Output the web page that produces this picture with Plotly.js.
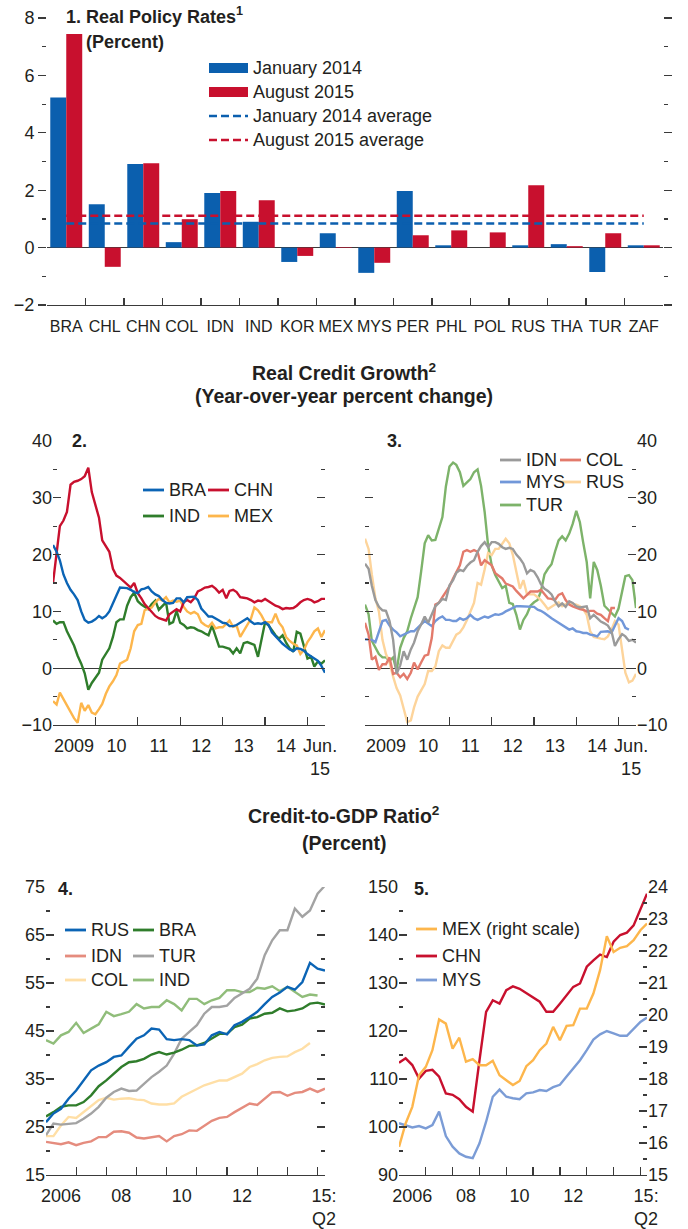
<!DOCTYPE html>
<html><head><meta charset="utf-8">
<script src="https://cdn.plot.ly/plotly-3.0.1.min.js"></script>
<style>html,body{margin:0;padding:0;background:#fff}#chart{width:688px;height:1229px}</style>
</head><body><div id="chart"></div>
<script>
// ---------- Panel 1: Real policy rates ----------
const countries = ['BRA','CHL','CHN','COL','IDN','IND','KOR','MEX','MYS','PER','PHL','POL','RUS','THA','TUR','ZAF'];
const rateJan2014 = [5.23,1.51,2.91,0.19,1.9,0.9,-0.5,0.5,-0.88,1.97,0.08,0,0.08,0.12,-0.85,0.08];
const rateAug2015 = [7.44,-0.67,2.94,0.99,1.97,1.65,-0.29,0.02,-0.53,0.43,0.6,0.53,2.17,0.05,0.5,0.08];
const avgJan2014 = [0.84,0.84];
const avgAug2015 = [1.11,1.11];

// ---------- Panel 2 & 3: Real credit growth, monthly Jan 2009 - Jun 2015 ----------
const bra2 = [21.7,20.5,19,16.5,15,13.8,13,12,10,8.5, 8,8.2,8.6,9.2,8.8,9.2,10,11.3,12.8,14.2, 14.2,14.1,13.8,13.4,13.2,13.9,14,14.3,13.5,13, 12.7,12,11.5,11.4,11.5,12.3,12.3,11.6,12.5,12.6, 12.6,12,10.5,9.8,9.1,9.1,8.8,8.4,8,7.9, 7.4,7.4,7.6,8,8.4,8.8,8.2,7.8,7.9,7.8, 8.1,7.6,6.3,5.6,5,4.3,3.8,3.3,3,3.5, 3.4,3.1,2.5,2,1.7,1.3,0.4,-0.8];
const chn2 = [15,20,25,26,27.5,32.3,32.8,33,33.3,33.8, 35.3,31,28.8,26.5,22.5,21.5,20.5,17.5,16.3,15.9, 15.3,14.8,14.2,15,13.2,12.3,11.3,10.6,10,9.2, 8.8,8.6,8.4,9.5,10,10.4,10,11.6,12,11.6, 12.3,13.5,13.8,14.2,14.3,14.5,14,13.3,13.8,12.3, 13.6,13.8,13.4,12.5,12.4,12.3,12,11.6,11.9,11.8, 12.2,11.8,11.3,11,10.8,10.4,10.6,10.5,10.6,11, 11.6,12,12.2,12,11.6,11.8,12.2,12.2];
const ind2 = [8.4,7.8,8.1,8.1,6.5,5.2,4,2.2,0.8,-0.9, -3.8,-2.6,-1.8,-0.8,1.5,2.6,3.5,5.5,8.1,8.6, 8.6,11,12.5,13.3,11.8,11.2,10.8,10.4,11.3,11.9, 10.3,11,11.6,7.8,8.1,10.1,8,7.6,7,7.2, 7.1,6.7,6.5,6.1,5.8,7.5,5.5,3.8,3.8,3.6, 3.4,2.6,3.5,2.6,4.4,4.6,4.3,4.1,2,4.9, 8.1,7.5,6.7,5.8,5.2,5.8,4.5,3.5,2.9,6.4, 6.1,4,1.7,2,0.3,1.2,0.8,1.4];
const mex2 = [-5.8,-6.4,-4.3,-5.5,-6.6,-7.8,-8.8,-9.6,-6.1,-7.5, -6.5,-7.8,-8.1,-7.2,-6.3,-4.5,-3.2,-2.3,-1.2,0.8, 1.2,1.5,3.5,6.5,7.6,7.8,10.2,10.5,10.7,11.6, 12.2,11.9,12.5,11.6,11.9,11.7,11.9,10.8,10,9.6, 9.9,9.5,8.1,7.6,7.3,8,7,7.2,7.2,7.8, 8.4,7.3,7.5,5.5,6.5,7.5,8.7,10.7,10.2,9.3, 8.1,8.1,8.1,9.6,8,7.2,5.5,4.8,4.3,4, 2.5,3.2,4.6,5.5,6.5,7,5.5,6.7];

const idn3 = [18.4,17.5,14.5,12,10.8,10.2,10.1,8.3,5,-1, 0.5,3,1.5,3.3,4.5,6.5,7.7,9.1,8,9.5, 10.9,11.5,12.2,12,14.6,15.5,16.8,17.3,17.1,18, 18.6,19,20.5,21.5,22.2,21.3,22.2,22.2,21.9,21.3, 21,21.2,21,20,19.3,18.4,16.7,17.3,17,16, 14.8,14,13.6,13,11.8,10.9,11.4,10.8,11.8,11.5, 10.9,10.7,10.8,10.9,8.8,9.4,8.8,8.2,7.9,7.5, 6.5,3.9,5.1,6,5.6,4.8,5,4.5];
const col3 = [8,5.9,1.5,2,-0.3,0.7,0.7,1.9,-1,-0.8, -1.6,-1,-1.9,-0.8,1,-0.2,1,2.2,2.4,5.3, 11.2,11.5,12.5,13.5,14.4,15.8,17,18.1,20.5,20.8, 20.5,20.8,20.5,18.1,19,18.5,18.1,16.7,16.2,15.8, 14.9,14.6,14.4,13.6,12.9,12.3,12.9,13.5,13.5,13.5, 13.8,13,12.3,12.2,12,12.9,13.2,12,11.2,10.9, 10.6,10.4,10.3,10,10.1,10.1,9.6,9.4,8.8,8.3, 10.6,10.6];
const mys3 = [5.1,5.1,5,4.6,6.5,8.3,8.5,7.5,6.8,6.3, 5.6,5.9,6.2,6.5,6.5,7.2,7.7,8.3,7.8,7.4, 8.3,8.8,9.1,8.5,8.5,8.3,8.3,8.8,8.5,8.8, 9.4,8.8,8.5,8.8,9.1,8.9,9.2,9.5,9.4,9.6, 10,10.3,10.6,10.9,10.9,10.9,10.9,10.9,10.8,10.3, 10.1,9.7,9.2,8.8,8.4,8,7.5,7.1,6.8,7, 6.5,6.4,6.2,6.2,5.9,5.8,5.6,6.4,6.5,6.5, 6.2,7.4,8.8,8.3,7.1,6.8];
const rus3 = [22.8,21,16.5,12.3,10,5,2.5,1,-1.5,-3.5, -4.8,-7.2,-9.5,-9.2,-6.9,-5,-3.8,-2.8,-0.5,-0.5, 0.3,3,4,3.6,3.6,4.8,5.9,6.3,7.2,8.5, 10,11.5,15,14.7,17.4,20.3,19.9,21,21,22, 22.8,22,20,17,14,15.5,13,13,13,12.5, 12,11.2,10.4,10.8,11.2,11.6,10.9,11.3,11.5,11.4, 11.2,10.9,10.4,9.4,6.5,5.5,5.3,5.2,5.1,5.6, 6.8,8.3,7.7,3,-0.8,-2.5,-2.2,-1];
const tur3 = [11.2,9.5,4.8,3.6,2.5,1.9,1.9,1.3,1.9,-0.5, 3.6,5.3,6.5,8.8,10.5,12.5,17,22,23.4,22.5, 22.6,24.5,26.6,32,35.5,36.2,35.8,34.5,32.1,32.7, 33.3,34.5,35,32.1,27.5,21.6,18.1,16.4,15.2,14.1, 14.5,11.5,11.3,9.4,6.8,8.5,9.5,11,11.6,12, 13.5,16.5,17.5,18.3,20.5,22.5,23.2,22.5,23.7,25.4, 27.7,25.7,22.2,18.7,12.3,18.7,17.3,14.5,11,10.4, 9.8,9.1,10.5,13.5,16.2,16.4,15.5,10.6];

// ---------- Panel 4 & 5: Credit-to-GDP, quarterly 2006:Q1 - 2015:Q2 ----------
const rus4 = [26,27.8,28.8,30.9,32.6,34.7,36.8,37.8,38.5,39.6, 39.9,41.7,43.4,44.1,45.5,45.3,43.3,43.1,43.3,43.1, 42,42.2,44.1,44.8,44.3,46.2,46.9,47.9,49,50.6, 52.1,53,54.2,53.6,55.2,59.2,58,57.6];
const bra4 = [27.2,28.1,29.2,29.5,29.5,30.2,31.6,33.5,34.7,36.1, 37.5,38.5,38.7,39.2,40.1,40.6,40.1,40.5,41.1,41.9, 42,42.5,43.4,44.4,44.4,45.8,46.3,47.6,47.9,48.6, 48.8,49.7,49.1,49.3,49.7,50.7,50.9,50.5];
const idn4 = [21.9,21.7,21.4,21.8,21.2,21.7,22,22.9,22.9,24, 24.1,23.8,22.8,22.6,22.8,23.1,22,23.1,23.5,24.3, 24.2,25.3,26.3,26.9,27.1,28.1,29,29.9,29.6,30.9, 32.2,32.3,31.5,32.1,32.3,33,32.3,33];
const tur4 = [23.3,25.7,25.5,25.7,25.8,26.7,27.8,29.2,31.1,32.3, 33,32.5,32.6,34,35.4,36.5,37.8,40.3,43.4,44.8, 46.2,48.6,50,50,50.3,51.9,52.8,53.8,55.9,60.8, 63.9,66,66,70.5,68.8,70.1,73.6,75.3];
const col4 = [23.1,23.1,25.3,27.1,26.9,28.1,29.5,30.6,31.1,30.7, 30.9,31,30.7,30.6,29.9,29.7,29.7,29.9,31.3,32.1, 32.8,33.7,34.2,34.7,34.7,35.4,36.1,37.5,38.1,38.9, 39.4,39.6,39.7,40.6,41.3,42.5];
const ind4 = [43.1,42.4,44.1,44.8,46.7,44.6,45.5,46.4,49,48.1, 48.5,49,50.6,49.7,50,50,51.4,50.6,49.3,51.7, 51.7,50.6,51.4,51.9,53.5,53.5,53.1,53.1,54,53.8, 54.3,53.3,54.2,53.1,52.1,52.6,52.4];

const mex5 = [15.88,16.61,17.13,18.12,18.38,18.9,19.86,19.73,18.95,19.29, 18.54,18.62,18.43,18.43,18.57,18.12,17.96,17.81,17.94,18.4, 18.59,18.9,19.11,19.63,19.21,19.66,19.68,20.2,20.2,20.67, 21.4,22.46,21.97,22.1,22.15,22.34,22.65,22.86];
const chn5 = [113.4,114.3,112.9,110.1,111.7,111.9,110.5,107,106.7,105.8, 104.2,103.2,113.9,124,126.4,125.7,128.5,129.3,128.8,127.9, 127.1,126.1,124,124,125.7,127.5,129.2,129.9,133.4,134.7, 135.9,135.4,138.6,140,140.5,142,145.5,148.6];
const mys5 = [100.8,100.4,99.9,100.2,99.7,100.4,103.2,98.1,95.9,94.5, 93.8,93.5,96.6,101.1,106.3,107.8,106.3,106,105.8,107, 107.2,107.7,107.5,108.3,108.8,110.5,112.2,113.9,116,118.2, 119.3,120,119.5,119,119,120.5,121.9,122.8];

// tick labels
const tickText23 = ['2009','10','11','12','13','14','Jun.<br>15'];
const tickText45 = ['2006','08','10','12','15:<br>Q2'];

// ---------- helpers ----------
function monthSeq(y, m, n, step){
  const out=[];
  for(let i=0;i<n;i++){const t=y*12+(m-1)+i*step;out.push(Math.floor(t/12)+'-'+String(t%12+1).padStart(2,'0')+'-01');}
  return out;
}
const months = monthSeq(2009,1,78,1);
const quarters = monthSeq(2006,1,38,3);

const W=688, H=1229;
const fx = p => p/W, fy = p => 1 - p/H;
const FONT = 'Liberation Sans, Arial, Helvetica, sans-serif';
const TXT = '#231f20';
const AX = '#3a3a3a';
const BLUE = '#0b5fae', RED = '#c8102e';

const traces = [];
// Panel 1
traces.push({type:'bar', x:countries, y:rateJan2014, name:'January 2014', marker:{color:BLUE}, xaxis:'x', yaxis:'y'});
traces.push({type:'bar', x:countries, y:rateAug2015, name:'August 2015', marker:{color:RED}, xaxis:'x', yaxis:'y'});
traces.push({type:'scatter', mode:'lines', x:[countries[0], countries[countries.length-1]], y:avgJan2014, name:'January 2014 average', line:{color:BLUE,width:2.6,dash:'8px,4px'}, xaxis:'x', yaxis:'y'});
traces.push({type:'scatter', mode:'lines', x:[countries[0], countries[countries.length-1]], y:avgAug2015, name:'August 2015 average', line:{color:RED,width:2.6,dash:'8px,4px'}, xaxis:'x', yaxis:'y'});

function line(x, y, name, color, xa, ya){
  traces.push({type:'scatter', mode:'lines', x:x.slice(0,y.length), y:y, name:name, line:{color:color,width:2.4}, xaxis:xa, yaxis:ya});
}
const C = {
  bra2:'#0b64b5', chn2:'#c8102e', ind2:'#2f7d2b', mex2:'#fdb64c',
  idn3:'#9a9a9a', col3:'#e37a6b', mys3:'#7197d9', rus3:'#fdd49b', tur3:'#7db36a',
  rus4:'#0b64b5', bra4:'#2f7d2b', idn4:'#e58c7e', tur4:'#a3a3a3', col4:'#ffdfa6', ind4:'#90bd7a',
  mex5:'#fdb64c', chn5:'#c8102e', mys5:'#7b9cd6'
};
// Panel 2
line(months, ind2, 'IND', C.ind2, 'x2','y2');
line(months, mex2, 'MEX', C.mex2, 'x2','y2');
line(months, chn2, 'CHN', C.chn2, 'x2','y2');
line(months, bra2, 'BRA', C.bra2, 'x2','y2');
// Panel 3
line(months, tur3, 'TUR', C.tur3, 'x3','y3');
line(months, rus3, 'RUS', C.rus3, 'x3','y3');
line(months, mys3, 'MYS', C.mys3, 'x3','y3');
line(months, col3, 'COL', C.col3, 'x3','y3');
line(months, idn3, 'IDN', C.idn3, 'x3','y3');
// Panel 4
line(quarters, col4, 'COL', C.col4, 'x4','y4');
line(quarters, ind4, 'IND', C.ind4, 'x4','y4');
line(quarters, idn4, 'IDN', C.idn4, 'x4','y4');
line(quarters, tur4, 'TUR', C.tur4, 'x4','y4');
line(quarters, bra4, 'BRA', C.bra4, 'x4','y4');
line(quarters, rus4, 'RUS', C.rus4, 'x4','y4');
// Panel 5
line(quarters, mys5, 'MYS', C.mys5, 'x5','y5');
line(quarters, mex5, 'MEX (right scale)', C.mex5, 'x5','y6');
line(quarters, chn5, 'CHN', C.chn5, 'x5','y5');

const tickfont = {family:FONT, size:18, color:TXT};
function yax(dom, range, dtick, minor, extra){
  return Object.assign({domain:dom, range:range, dtick:dtick, tick0:range[0], showgrid:false, zeroline:false,
    ticks:'inside', ticklen:8, tickwidth:1.2, tickcolor:AX, mirror:'ticks', showline:false,
    minor:{dtick:minor, tick0:range[0], ticks:'inside', ticklen:4, tickwidth:1.2, tickcolor:AX},
    tickfont:tickfont, fixedrange:true}, extra||{});
}
function xdate(dom, range, tv, tt, years, anchor){
  return {domain:dom, type:'date', range:range, tickmode:'array', tickvals:tv, ticktext:tt,
    ticks:'inside', ticklen:0, showgrid:false, zeroline:false, showline:true, linecolor:AX, linewidth:1.2,
    minor:{tickmode:'array', tickvals:years, ticks:'inside', ticklen:8, tickwidth:1.2, tickcolor:AX},
    tickfont:tickfont, tickangle:0, ticklabelstandoff:4, anchor:anchor, fixedrange:true};
}
const tv23 = ['2009-07-01','2010-07-01','2011-07-01','2012-07-01','2013-07-01','2014-07-01','2015-04-20'];
const yrs23 = ['2009-01-01','2010-01-01','2011-01-01','2012-01-01','2013-01-01','2014-01-01','2015-01-01'];
const tv45 = ['2006-07-01','2008-07-01','2010-07-01','2012-07-01','2015-03-20'];
const yrs45 = ['2006-01-01','2007-01-01','2008-01-01','2009-01-01','2010-01-01','2011-01-01','2012-01-01','2013-01-01','2014-01-01','2015-01-01'];

const layout = {
  width:W, height:H, margin:{l:0,r:0,t:0,b:0}, paper_bgcolor:'#fff', plot_bgcolor:'rgba(0,0,0,0)',
  showlegend:false, hovermode:false, barmode:'group', bargap:0.17, bargroupgap:0,
  font:{family:FONT, size:18, color:TXT},
  xaxis:{domain:[fx(47),fx(663)], type:'category', range:[-0.5,15.5], anchor:'y', showgrid:false, zeroline:false,
    showline:true, linecolor:AX, linewidth:1.2, ticks:'inside', tickson:'boundaries', ticklen:7, tickwidth:1.2, tickcolor:AX,
    tickfont:{family:FONT, size:16, color:TXT}, tickangle:0, ticklabelstandoff:7, fixedrange:true},
  yaxis: Object.assign(yax([fy(305),fy(18)], [-2,8], 2, 1), {ticks:'outside', ticklen:8, minor:{dtick:1,tick0:-2,ticks:'outside',ticklen:4,tickwidth:1.2,tickcolor:AX}, zeroline:true, zerolinecolor:AX, zerolinewidth:1.2, anchor:'x'}),
  xaxis2: xdate([fx(53),fx(325)], ['2009-01-01','2015-06-01'], tv23, tickText23, yrs23, 'y2'),
  yaxis2: yax([fy(725),fy(441)], [-10,40], 10, 5, {zeroline:true, zerolinecolor:AX, zerolinewidth:1.2, anchor:'x2'}),
  xaxis3: xdate([fx(365),fx(636)], ['2009-01-01','2015-06-01'], tv23, tickText23, yrs23, 'y3'),
  yaxis3: yax([fy(725),fy(441)], [-10,40], 10, 5, {side:'right', zeroline:true, zerolinecolor:AX, zerolinewidth:1.2, anchor:'x3'}),
  xaxis4: xdate([fx(46),fx(325)], ['2006-01-01','2015-04-01'], tv45, tickText45, yrs45, 'y4'),
  yaxis4: yax([fy(1175),fy(887)], [15,75], 10, 5, {anchor:'x4'}),
  xaxis5: xdate([fx(399),fx(647)], ['2006-01-01','2015-04-01'], tv45, tickText45, yrs45, 'y5'),
  yaxis5: yax([fy(1175),fy(887)], [90,150], 10, 5, {anchor:'x5', mirror:false}),
  yaxis6: yax([fy(1175),fy(887)], [15,24], 1, 0.5, {anchor:'x5', overlaying:'y5', side:'right', mirror:false}),
  annotations:[], shapes:[]
};

function label(x, y, text, opts){
  layout.annotations.push(Object.assign({xref:'paper', yref:'paper', x:fx(x), y:fy(y), text:text, showarrow:false,
    xanchor:'left', yanchor:'middle', font:{family:FONT, size:18, color:TXT}}, opts||{}));
}
function legLine(x0, x1, y, color, dash){
  layout.shapes.push({type:'line', xref:'paper', yref:'paper', x0:fx(x0), x1:fx(x1), y0:fy(y), y1:fy(y),
    line:{color:color, width:dash?2.6:2.8, dash:dash||'solid'}});
}
// Titles
label(64, 16, '<b>1. Real Policy Rates<sup>1</sup></b>');
label(84, 42, '<b>(Percent)</b>');
label(344, 372, '<b>Real Credit Growth<sup>2</sup></b>', {xanchor:'center', font:{family:FONT,size:19.5,color:TXT}});
label(344, 396, '<b>(Year-over-year percent change)</b>', {xanchor:'center', font:{family:FONT,size:19.5,color:TXT}});
label(344, 815, '<b>Credit-to-GDP Ratio<sup>2</sup></b>', {xanchor:'center', font:{family:FONT,size:19.5,color:TXT}});
label(344, 843, '<b>(Percent)</b>', {xanchor:'center', font:{family:FONT,size:19.5,color:TXT}});
label(70, 441, '<b>2.</b>');
label(385, 441, '<b>3.</b>');
label(56, 889, '<b>4.</b>');
label(412, 889, '<b>5.</b>');

// Panel 1 legend
layout.shapes.push({type:'rect', xref:'paper', yref:'paper', x0:fx(209), x1:fx(248), y0:fy(73), y1:fy(63), fillcolor:BLUE, line:{width:0}});
layout.shapes.push({type:'rect', xref:'paper', yref:'paper', x0:fx(209), x1:fx(248), y0:fy(97), y1:fy(87), fillcolor:RED, line:{width:0}});
legLine(209, 248, 116, BLUE, '8px,4px');
legLine(209, 248, 140, RED, '8px,4px');
label(251, 68, traces[0].name);
label(251, 92, traces[1].name);
label(251, 116, traces[2].name);
label(251, 140, traces[3].name);

// Panel 2 legend
function legItem(x0, y, name, color){ legLine(x0, x0+21, y, color); label(x0+24, y, name); }
legItem(143, 490, 'BRA', C.bra2); legItem(208, 490, 'CHN', C.chn2);
legItem(143, 516, 'IND', C.ind2); legItem(208, 516, 'MEX', C.mex2);
// Panel 3 legend
legItem(500, 460, 'IDN', C.idn3); legItem(560, 460, 'COL', C.col3);
legItem(500, 482, 'MYS', C.mys3); legItem(560, 482, 'RUS', C.rus3);
legItem(500, 505, 'TUR', C.tur3);
// Panel 4 legend
legItem(65, 930, 'RUS', C.rus4); legItem(133, 930, 'BRA', C.bra4);
legItem(65, 956, 'IDN', C.idn4); legItem(133, 956, 'TUR', C.tur4);
legItem(65, 980, 'COL', C.col4); legItem(133, 980, 'IND', C.ind4);
// Panel 5 legend
legItem(416, 929, 'MEX (right scale)', C.mex5);
legItem(416, 956, 'CHN', C.chn5);
legItem(416, 980, 'MYS', C.mys5);

Plotly.newPlot('chart', traces, layout, {staticPlot:true, displayModeBar:false});
</script>
</body></html>
